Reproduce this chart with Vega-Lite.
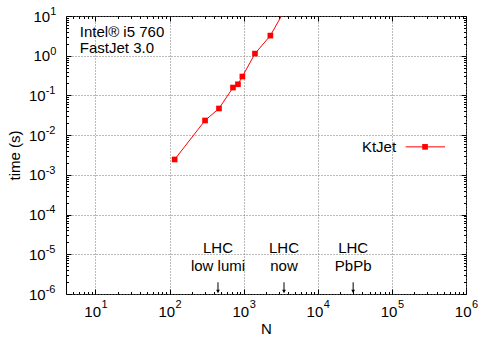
{
  "$schema": "https://vega.github.io/schema/vega-lite/v6.json",
  "width": 400,
  "height": 278,
  "autosize": {"type": "none"},
  "padding": {"left": 66, "top": 16, "right": 12, "bottom": 44},
  "background": "white",
  "config": {
    "view": {"stroke": "black", "strokeWidth": 1},
    "axis": {"labelFont": "Liberation Sans", "titleFont": "Liberation Sans", "labelColor": "black", "titleColor": "black", "grid": false, "domain": false, "labelFlush": false, "labelOverlap": false, "labelBound": false},
    "text": {"font": "Liberation Sans", "fontSize": 15, "color": "black"}
  },
  "datasets": {
    "ktjet": [
      {"N": 117, "t": 0.00244},
      {"N": 301, "t": 0.0234},
      {"N": 464, "t": 0.0469},
      {"N": 717, "t": 0.158},
      {"N": 837, "t": 0.191},
      {"N": 960, "t": 0.299},
      {"N": 1420, "t": 1.13},
      {"N": 2291, "t": 3.21},
      {"N": 4000, "t": 20.4}
    ],
    "lhc": [
      {"N": 450, "line1": "LHC", "line2": "low lumi"},
      {"N": 3500, "line1": "LHC", "line2": "now"},
      {"N": 30000, "line1": "LHC", "line2": "PbPb"}
    ],
    "notes": [
      {"N": 6.14, "t": 2.97, "text": "Intel® i5 760"},
      {"N": 6.14, "t": 1.17, "text": "FastJet 3.0"}
    ],
    "legend": [
      {"N": 153500, "t": 0.00507},
      {"N": 521000, "t": 0.00507}
    ]
  },
  "resolve": {"axis": {"x": "independent", "y": "independent"}},
  "layer": [
    {
      "data": {"name": "ktjet"},
      "mark": {"type": "line", "color": "#ff0000", "strokeWidth": 1, "clip": true},
      "encoding": {
        "x": {"field": "N", "type": "quantitative",
          "scale": {"type": "log", "domain": [4, 1000000], "nice": false},
          "axis": {"orient": "bottom", "values": [10, 100, 1000, 10000, 100000, 1000000], "labelExpr": "'10'", "labelAlign": "right", "labelOffset": 5, "labelBaseline": "alphabetic", "labelPadding": 22.7, "labelFontSize": 15, "ticks": false, "grid": true, "gridDash": [1, 2], "gridColor": "#777777", "gridWidth": 1,
            "title": "N", "titleFontSize": 15, "titleFontWeight": "normal", "titleBaseline": "alphabetic", "titleY": 39.3, "titleX": 200, "titleAlign": "center"}},
        "y": {"field": "t", "type": "quantitative",
          "scale": {"type": "log", "domain": [0.000001, 10], "nice": false},
          "axis": {"orient": "left", "values": [0.000001, 0.00001, 0.0001, 0.001, 0.01, 0.1, 1, 10], "labelExpr": "'10'", "labelAlign": "right", "labelOffset": 5, "labelBaseline": "alphabetic",
            "labelPadding": {"condition": {"test": "datum.value >= 0.5", "value": 16.3}, "value": 20.8},
            "labelFontSize": 15, "ticks": false, "grid": true, "gridDash": [1, 2], "gridColor": "#777777", "gridWidth": 1,
            "title": "time (s)", "titleFontSize": 15, "titleFontWeight": "normal", "titleBaseline": "alphabetic", "titleAngle": -90, "titleX": -46.5, "titleY": 139, "titleAlign": "center"}}
      }
    },
    {
      "data": {"name": "ktjet"},
      "transform": [{"filter": "datum.t < 10"}],
      "mark": {"type": "point", "shape": "square", "filled": true, "color": "#ff0000", "size": 32, "opacity": 1},
      "encoding": {
        "x": {"field": "N", "type": "quantitative",
          "scale": {"type": "log", "domain": [4, 1000000], "nice": false},
          "axis": {"orient": "bottom", "values": [10, 100, 1000, 10000, 100000, 1000000], "labelExpr": "'' + round(log(datum.value)/LN10)", "labelAlign": "left", "labelOffset": 5.5, "labelBaseline": "alphabetic", "labelPadding": 13.7, "labelFontSize": 11, "ticks": false, "title": null}},
        "y": {"field": "t", "type": "quantitative",
          "scale": {"type": "log", "domain": [0.000001, 10], "nice": false},
          "axis": {"orient": "left", "values": [0.000001, 0.00001, 0.0001, 0.001, 0.01, 0.1, 1, 10], "labelExpr": "'' + round(log(datum.value)/LN10)", "labelAlign": "left", "labelOffset": -1.6, "labelBaseline": "alphabetic",
            "labelPadding": {"condition": {"test": "datum.value >= 0.5", "value": 16.3}, "value": 20.8},
            "labelFontSize": 11, "ticks": false, "title": null}}
      }
    },
    {
      "data": {"name": "lhc"},
      "mark": {"type": "rule", "color": "black", "strokeWidth": 1},
      "encoding": {
        "x": {"field": "N", "type": "quantitative",
          "scale": {"type": "log", "domain": [4, 1000000], "nice": false},
          "axis": {"orient": "bottom", "labels": false, "title": null, "tickColor": "black", "tickWidth": 1,
            "values": [5, 6, 7, 8, 9, 10, 20, 30, 40, 50, 60, 70, 80, 90, 100, 200, 300, 400, 500, 600, 700, 800, 900, 1000, 2000, 3000, 4000, 5000, 6000, 7000, 8000, 9000, 10000, 20000, 30000, 40000, 50000, 60000, 70000, 80000, 90000, 100000, 200000, 300000, 400000, 500000, 600000, 700000, 800000, 900000, 1000000],
            "tickSize": {"condition": {"test": "abs(log(datum.value)/LN10 - round(log(datum.value)/LN10)) < 0.001", "value": -5}, "value": -2.5}}},
        "y": {"datum": 0.00000197, "type": "quantitative",
          "scale": {"type": "log", "domain": [0.000001, 10], "nice": false},
          "axis": {"orient": "left", "labels": false, "title": null, "tickColor": "black", "tickWidth": 1,
            "values": [0.000001, 0.000002, 0.000003, 0.000004, 0.000005, 0.000006, 0.000007, 0.000008, 0.000009, 0.00001, 0.00002, 0.00003, 0.00004, 0.00005, 0.00006, 0.00007, 0.00008, 0.00009, 0.0001, 0.0002, 0.0003, 0.0004, 0.0005, 0.0006, 0.0007, 0.0008, 0.0009, 0.001, 0.002, 0.003, 0.004, 0.005, 0.006, 0.007, 0.008, 0.009, 0.01, 0.02, 0.03, 0.04, 0.05, 0.06, 0.07, 0.08, 0.09, 0.1, 0.2, 0.3, 0.4, 0.5, 0.6, 0.7, 0.8, 0.9, 1, 2, 3, 4, 5, 6, 7, 8, 9, 10],
            "tickSize": {"condition": {"test": "abs(log(datum.value)/LN10 - round(log(datum.value)/LN10)) < 0.001", "value": -5}, "value": -2.5}}},
        "y2": {"datum": 0.0000011}
      }
    },
    {
      "data": {"name": "lhc"},
      "mark": {"type": "point", "shape": "triangle-down", "filled": true, "color": "black", "size": 14, "opacity": 1},
      "encoding": {
        "x": {"field": "N", "type": "quantitative",
          "scale": {"type": "log", "domain": [4, 1000000], "nice": false},
          "axis": {"orient": "top", "labels": false, "title": null, "tickColor": "black", "tickWidth": 1,
            "values": [5, 6, 7, 8, 9, 10, 20, 30, 40, 50, 60, 70, 80, 90, 100, 200, 300, 400, 500, 600, 700, 800, 900, 1000, 2000, 3000, 4000, 5000, 6000, 7000, 8000, 9000, 10000, 20000, 30000, 40000, 50000, 60000, 70000, 80000, 90000, 100000, 200000, 300000, 400000, 500000, 600000, 700000, 800000, 900000, 1000000],
            "tickSize": {"condition": {"test": "abs(log(datum.value)/LN10 - round(log(datum.value)/LN10)) < 0.001", "value": -5}, "value": -2.5}}},
        "y": {"datum": 0.00000116, "type": "quantitative",
          "scale": {"type": "log", "domain": [0.000001, 10], "nice": false},
          "axis": {"orient": "right", "labels": false, "title": null, "tickColor": "black", "tickWidth": 1,
            "values": [0.000001, 0.000002, 0.000003, 0.000004, 0.000005, 0.000006, 0.000007, 0.000008, 0.000009, 0.00001, 0.00002, 0.00003, 0.00004, 0.00005, 0.00006, 0.00007, 0.00008, 0.00009, 0.0001, 0.0002, 0.0003, 0.0004, 0.0005, 0.0006, 0.0007, 0.0008, 0.0009, 0.001, 0.002, 0.003, 0.004, 0.005, 0.006, 0.007, 0.008, 0.009, 0.01, 0.02, 0.03, 0.04, 0.05, 0.06, 0.07, 0.08, 0.09, 0.1, 0.2, 0.3, 0.4, 0.5, 0.6, 0.7, 0.8, 0.9, 1, 2, 3, 4, 5, 6, 7, 8, 9, 10],
            "tickSize": {"condition": {"test": "abs(log(datum.value)/LN10 - round(log(datum.value)/LN10)) < 0.001", "value": -5}, "value": -2.5}}}
      }
    },
    {
      "data": {"name": "lhc"},
      "mark": {"type": "text", "align": "center", "baseline": "alphabetic"},
      "encoding": {
        "x": {"field": "N", "type": "quantitative", "scale": {"type": "log", "domain": [4, 1000000], "nice": false}, "axis": null},
        "y": {"datum": 0.0000106, "type": "quantitative", "scale": {"type": "log", "domain": [0.000001, 10], "nice": false}, "axis": null},
        "text": {"field": "line1"}
      }
    },
    {
      "data": {"name": "lhc"},
      "mark": {"type": "text", "align": "center", "baseline": "alphabetic"},
      "encoding": {
        "x": {"field": "N", "type": "quantitative", "scale": {"type": "log", "domain": [4, 1000000], "nice": false}, "axis": null},
        "y": {"datum": 0.00000386, "type": "quantitative", "scale": {"type": "log", "domain": [0.000001, 10], "nice": false}, "axis": null},
        "text": {"field": "line2"}
      }
    },
    {
      "data": {"name": "notes"},
      "mark": {"type": "text", "align": "left", "baseline": "alphabetic"},
      "encoding": {
        "x": {"field": "N", "type": "quantitative", "scale": {"type": "log", "domain": [4, 1000000], "nice": false}, "axis": null},
        "y": {"field": "t", "type": "quantitative", "scale": {"type": "log", "domain": [0.000001, 10], "nice": false}, "axis": null},
        "text": {"field": "text"}
      }
    },
    {
      "data": {"name": "legend"},
      "mark": {"type": "line", "color": "#ff0000", "strokeWidth": 1},
      "encoding": {
        "x": {"field": "N", "type": "quantitative", "scale": {"type": "log", "domain": [4, 1000000], "nice": false}, "axis": null},
        "y": {"field": "t", "type": "quantitative", "scale": {"type": "log", "domain": [0.000001, 10], "nice": false}, "axis": null}
      }
    },
    {
      "data": {"values": [{"series": "KtJet", "N": 280000, "t": 0.00507}]},
      "mark": {"type": "point", "shape": "square", "filled": true, "color": "#ff0000", "size": 32, "opacity": 1},
      "encoding": {
        "x": {"field": "N", "type": "quantitative", "scale": {"type": "log", "domain": [4, 1000000], "nice": false}, "axis": null},
        "y": {"field": "t", "type": "quantitative", "scale": {"type": "log", "domain": [0.000001, 10], "nice": false}, "axis": null}
      }
    },
    {
      "data": {"values": [{"series": "KtJet", "N": 114000, "t": 0.00367}]},
      "mark": {"type": "text", "align": "right", "baseline": "alphabetic"},
      "encoding": {
        "x": {"field": "N", "type": "quantitative", "scale": {"type": "log", "domain": [4, 1000000], "nice": false}, "axis": null},
        "y": {"field": "t", "type": "quantitative", "scale": {"type": "log", "domain": [0.000001, 10], "nice": false}, "axis": null},
        "text": {"field": "series"}
      }
    }
  ]
}
